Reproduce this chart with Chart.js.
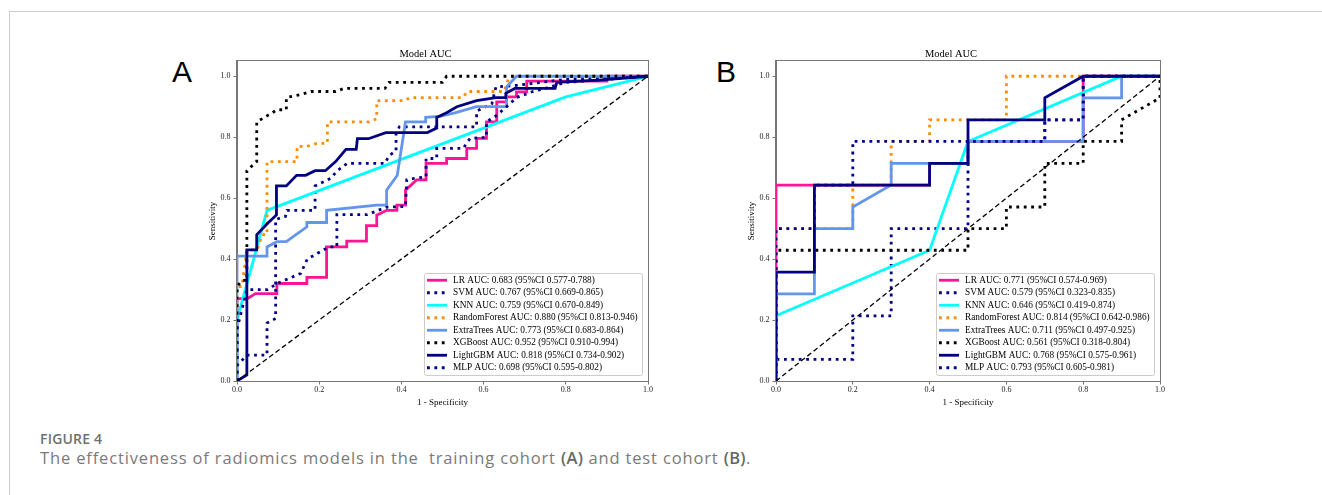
<!DOCTYPE html>
<html>
<head>
    <script src="https://cdn.jsdelivr.net/npm/chart.js@4.4.1/dist/chart.umd.min.js"></script>
    <style>
        body {
            margin: 0;
            width: 1322px;
            height: 495px;
            background: #fff;
            position: relative;
            overflow: hidden;
        }
        .rule-top {
            position: absolute; left: 9px; top: 11px; right: 0; height: 1px; background: #cccccc;
        }
        .rule-left {
            position: absolute; left: 9px; top: 11px; bottom: 0; width: 1px; background: #cccccc;
        }
        .panel-letter {
            position: absolute;
            font-family: "Liberation Sans", Arial, sans-serif;
            font-size: 30px;
            line-height: 30px;
            color: #000;
        }
        canvas { position: absolute; }
        #fig-label {
            position: absolute; left: 40px; top: 429px;
            font-family: "Open Sans", sans-serif; font-size: 14px; line-height: 20px;
            font-weight: 600; color: #707070; letter-spacing: 0.2px;
        }
        #fig-caption {
            position: absolute; left: 40px; top: 447px;
            font-family: "Open Sans", sans-serif; font-size: 16.5px; line-height: 22px;
            color: #7a7a7a; white-space: pre; letter-spacing: 0.85px;
        }
        #fig-caption b { color: #666; font-weight: 600; letter-spacing: 0.3px; }
    </style>
</head>
<body>
    <div class="rule-top"></div>
    <div class="rule-left"></div>
    <div class="panel-letter" style="left:172px; top:57px;">A</div>
    <div class="panel-letter" style="left:716px; top:57px;">B</div>
    <canvas id="rocTrain" width="465" height="375" style="left:195px; top:40px;"></canvas>
    <canvas id="rocTest" width="438" height="375" style="left:734px; top:40px;"></canvas>
    <div id="fig-label">FIGURE 4</div>
    <div id="fig-caption">The effectiveness of radiomics models in the  training cohort <b>(A)</b> and test cohort <b>(B)</b>.</div>
    <script>
        // model names and AUC values (legend text)
        const models = ['LR', 'SVM', 'KNN', 'RandomForest', 'ExtraTrees', 'XGBoost', 'LightGBM', 'MLP'];
        const trainAuc = [0.683, 0.767, 0.759, 0.880, 0.773, 0.952, 0.818, 0.698];
        const trainLow = [0.577, 0.669, 0.670, 0.813, 0.683, 0.910, 0.734, 0.595];
        const trainHigh = [0.788, 0.865, 0.849, 0.946, 0.864, 0.994, 0.902, 0.802];
        const testAuc = [0.771, 0.579, 0.646, 0.814, 0.711, 0.561, 0.768, 0.793];
        const testLow = [0.574, 0.323, 0.419, 0.642, 0.497, 0.318, 0.575, 0.605];
        const testHigh = [0.969, 0.835, 0.874, 0.986, 0.925, 0.804, 0.961, 0.981];
        const axisTicks = [0, 0.2, 0.4, 0.6, 0.8, 1.0];

        // ROC points [fpr, tpr], training cohort
        const lrTrain = [[0,0],[0,0.27],[0.025,0.27],[0.045,0.287],[0.097,0.287],[0.097,0.32],[0.17,0.32],[0.17,0.34],[0.218,0.34],[0.218,0.44],[0.267,0.44],[0.267,0.459],[0.315,0.459],[0.315,0.51],[0.34,0.51],[0.34,0.544],[0.364,0.56],[0.389,0.56],[0.389,0.577],[0.41,0.577],[0.41,0.626],[0.437,0.66],[0.46,0.66],[0.46,0.714],[0.51,0.714],[0.51,0.73],[0.559,0.73],[0.559,0.763],[0.583,0.763],[0.583,0.796],[0.607,0.796],[0.607,0.85],[0.632,0.85],[0.632,0.916],[0.656,0.916],[0.656,0.932],[0.68,0.932],[0.68,0.949],[0.705,0.949],[0.705,0.984],[0.9,0.984],[0.9,1],[1,1]];
        const svmTrain = [[0,0],[0,0.05],[0.024,0.085],[0.073,0.085],[0.073,0.19],[0.094,0.205],[0.094,0.53],[0.118,0.54],[0.122,0.56],[0.19,0.56],[0.19,0.64],[0.228,0.665],[0.244,0.69],[0.268,0.714],[0.36,0.714],[0.37,0.74],[0.387,0.755],[0.387,0.81],[0.395,0.834],[0.583,0.834],[0.583,0.885],[0.62,0.91],[0.63,0.965],[0.68,0.97],[0.8,0.99],[1,1]];
        const knnTrain = [[0,0],[0,0.2],[0.073,0.56],[0.8,0.932],[1,1]];
        const rfTrain = [[0,0],[0,0.31],[0.012,0.31],[0.024,0.43],[0.049,0.43],[0.061,0.48],[0.073,0.48],[0.073,0.72],[0.146,0.72],[0.146,0.77],[0.17,0.77],[0.195,0.78],[0.22,0.78],[0.22,0.85],[0.32,0.85],[0.34,0.86],[0.34,0.92],[0.41,0.92],[0.42,0.93],[0.55,0.93],[0.56,0.95],[0.65,0.95],[0.66,0.99],[0.67,1],[1,1]];
        const etTrain = [[0,0],[0,0.41],[0.073,0.41],[0.073,0.44],[0.097,0.457],[0.12,0.457],[0.17,0.506],[0.17,0.52],[0.218,0.52],[0.218,0.56],[0.34,0.577],[0.364,0.577],[0.364,0.626],[0.39,0.675],[0.41,0.85],[0.459,0.85],[0.459,0.865],[0.494,0.868],[0.53,0.88],[0.583,0.9],[0.656,0.9],[0.656,0.965],[0.68,1],[1,1]];
        const xgbTrain = [[0,0],[0,0.31],[0.012,0.33],[0.024,0.33],[0.024,0.69],[0.048,0.72],[0.048,0.85],[0.073,0.87],[0.098,0.89],[0.12,0.89],[0.12,0.93],[0.155,0.94],[0.18,0.95],[0.24,0.95],[0.26,0.96],[0.36,0.96],[0.37,0.98],[0.5,0.98],[0.51,1],[1,1]];
        const lgbmTrain = [[0,0],[0.024,0.02],[0.024,0.43],[0.048,0.43],[0.048,0.48],[0.074,0.517],[0.096,0.545],[0.096,0.64],[0.12,0.64],[0.145,0.675],[0.167,0.675],[0.19,0.69],[0.215,0.69],[0.24,0.72],[0.265,0.76],[0.29,0.76],[0.293,0.795],[0.32,0.795],[0.362,0.815],[0.463,0.815],[0.486,0.83],[0.486,0.865],[0.51,0.88],[0.535,0.9],[0.583,0.92],[0.63,0.93],[0.654,0.93],[0.654,0.944],[0.676,0.96],[0.774,0.96],[0.778,0.98],[0.88,0.987],[1,1]];
        const mlpTrain = [[0,0],[0,0.17],[0.024,0.3],[0.074,0.3],[0.098,0.32],[0.127,0.337],[0.155,0.353],[0.171,0.4],[0.196,0.419],[0.224,0.44],[0.243,0.44],[0.243,0.546],[0.317,0.546],[0.363,0.57],[0.41,0.573],[0.413,0.66],[0.435,0.666],[0.46,0.67],[0.46,0.73],[0.486,0.73],[0.486,0.763],[0.55,0.763],[0.567,0.796],[0.607,0.8],[0.607,0.85],[0.63,0.87],[0.656,0.9],[0.68,0.93],[0.72,0.95],[0.75,0.96],[0.8,0.98],[1,1]];

        // ROC points [fpr, tpr], test cohort
        const lrTest = [[0,0],[0,0.643],[0.1,0.643],[0.4,0.643],[0.4,0.714],[0.5,0.714],[0.5,0.786],[0.8,0.786],[0.8,1],[1,1]];
        const svmTest = [[0,0],[0,0.071],[0.2,0.071],[0.2,0.214],[0.3,0.214],[0.3,0.5],[0.5,0.5],[0.5,0.786],[0.7,0.786],[0.7,0.857],[0.8,0.857],[0.8,1],[1,1]];
        const knnTest = [[0,0],[0,0.214],[0.4,0.429],[0.5,0.786],[0.9,1],[1,1]];
        const rfTest = [[0,0],[0,0.5],[0.2,0.5],[0.2,0.643],[0.3,0.643],[0.3,0.786],[0.4,0.786],[0.4,0.857],[0.6,0.857],[0.6,1],[1,1]];
        const etTest = [[0,0],[0,0.286],[0.1,0.286],[0.1,0.5],[0.2,0.5],[0.2,0.571],[0.3,0.643],[0.3,0.714],[0.5,0.714],[0.5,0.786],[0.8,0.786],[0.8,0.929],[0.9,0.929],[0.9,1],[1,1]];
        const xgbTest = [[0,0],[0,0.429],[0.5,0.429],[0.5,0.5],[0.6,0.5],[0.6,0.571],[0.7,0.571],[0.7,0.714],[0.8,0.714],[0.8,0.786],[0.9,0.786],[0.9,0.857],[1,0.929],[1,1]];
        const lgbmTest = [[0,0],[0,0.357],[0.1,0.357],[0.1,0.643],[0.4,0.643],[0.4,0.714],[0.5,0.714],[0.5,0.857],[0.7,0.857],[0.7,0.929],[0.8,1],[1,1]];
        const mlpTest = [[0,0],[0,0.5],[0.1,0.5],[0.1,0.643],[0.2,0.643],[0.2,0.786],[0.7,0.786],[0.7,0.857],[0.8,0.857],[0.8,1],[1,1]];

        const chanceLine = [[0,0],[1,1]];

        // line looks, one per model
        const DOT = [2.8, 4.6];
        const lineStyles = [
            { color: '#FF1493', dash: [] },
            { color: '#00008B', dash: DOT },
            { color: '#00FFFF', dash: [] },
            { color: '#FF8C00', dash: DOT },
            { color: '#6495ED', dash: [] },
            { color: '#000000', dash: DOT },
            { color: '#000080', dash: [] },
            { color: '#00008B', dash: DOT }
        ];

        const SERIF = '"Liberation Serif", "Times New Roman", serif';

        // full box around the plot (matplotlib spines)
        const plotFrame = {
            id: 'plotFrame',
            afterDatasetsDraw(chart) {
                const { ctx, chartArea: a } = chart;
                ctx.save();
                ctx.strokeStyle = '#777';
                ctx.lineWidth = 1;
                ctx.strokeRect(Math.round(a.left) - 0.5, Math.round(a.top) - 0.5,
                    Math.round(a.right - a.left) + 1, Math.round(a.bottom - a.top) + 1);
                ctx.restore();
            }
        };

        // legend in the lower right corner, inside the axes
        const insideLegend = {
            id: 'insideLegend',
            afterDraw(chart) {
                const { ctx, chartArea } = chart;
                const items = chart.data.datasets.filter(d => d.label);
                const rowH = 12.5;
                ctx.save();
                ctx.font = '9.3px ' + SERIF;
                const textW = Math.max(...items.map(d => ctx.measureText(d.label).width));
                const w = Math.round(3 + 20 + 6 + textW + 4);
                const h = Math.round(items.length * rowH + 2);
                const x = Math.round(chartArea.right - 6 - w);
                const y = Math.round(chartArea.bottom - 6 - h);
                ctx.fillStyle = 'rgba(255,255,255,0.85)';
                ctx.strokeStyle = '#cccccc';
                ctx.lineWidth = 1;
                ctx.beginPath();
                ctx.roundRect(x + 0.5, y + 0.5, w, h, 2);
                ctx.fill();
                ctx.stroke();
                items.forEach((d, i) => {
                    const cy = y + 1 + rowH * (i + 0.5);
                    ctx.strokeStyle = d.borderColor;
                    ctx.lineWidth = d.borderWidth;
                    ctx.setLineDash(d.borderDash);
                    ctx.beginPath();
                    ctx.moveTo(x + 3, cy);
                    ctx.lineTo(x + 23, cy);
                    ctx.stroke();
                    ctx.setLineDash([]);
                    ctx.fillStyle = '#000';
                    ctx.textBaseline = 'middle';
                    ctx.fillText(d.label, x + 29, cy);
                });
                ctx.restore();
            }
        };

        function makeRoc(canvasId, curves, auc, low, high) {
            const datasets = curves.map((pts, i) => ({
                label: models[i] + ' AUC: ' + auc[i].toFixed(3) + ' (95%CI ' + low[i].toFixed(3) + '-' + high[i].toFixed(3) + ')',
                data: pts.map(p => ({ x: p[0], y: p[1] })),
                borderColor: lineStyles[i].color,
                borderDash: lineStyles[i].dash,
                borderWidth: 2.8,
                borderCapStyle: 'butt',
                showLine: true,
                pointRadius: 0,
                order: 20 - i // later models drawn on top, like matplotlib
            }));
            datasets.push({
                label: '',
                data: chanceLine.map(p => ({ x: p[0], y: p[1] })),
                borderColor: '#000',
                borderDash: [5, 3],
                borderWidth: 1.3,
                showLine: true,
                pointRadius: 0,
                order: 0
            });

            const tickFont = { family: SERIF, size: 8 };
            const titleFont = { family: SERIF, size: 9 };

            return new Chart(document.getElementById(canvasId), {
                type: 'scatter',
                data: { datasets: datasets },
                options: {
                    responsive: false,
                    animation: false,
                    devicePixelRatio: 1,
                    layout: { padding: { left: 8, right: 12, top: 0, bottom: 5 } },
                    plugins: {
                        legend: { display: false },
                        tooltip: { enabled: false },
                        title: {
                            display: true,
                            text: 'Model AUC',
                            color: '#000',
                            font: { family: SERIF, size: 10.5, weight: 'normal' },
                            padding: { top: 8.4, bottom: 0 }
                        }
                    },
                    scales: {
                        x: {
                            type: 'linear',
                            min: 0,
                            max: 1,
                            afterBuildTicks: s => { s.ticks = axisTicks.map(v => ({ value: v })); },
                            afterFit: s => { s.height = 29; },
                            ticks: { font: tickFont, color: '#222', padding: 1, maxRotation: 0, callback: v => v.toFixed(1) },
                            grid: { drawOnChartArea: false, drawTicks: true, tickLength: 3.5, color: '#777' },
                            border: { display: true, color: '#777' },
                            title: { display: true, text: '1 - Specificity', color: '#000', font: titleFont, padding: { top: 2, bottom: 2 } }
                        },
                        y: {
                            type: 'linear',
                            min: 0,
                            max: 1.05,
                            afterBuildTicks: s => { s.ticks = axisTicks.map(v => ({ value: v })); },
                            afterFit: s => { s.width = 34; },
                            ticks: { font: tickFont, color: '#222', padding: 3, callback: v => v.toFixed(1) },
                            grid: { drawOnChartArea: false, drawTicks: true, tickLength: 3.5, color: '#777' },
                            border: { display: true, color: '#777' },
                            title: { display: true, text: 'Sensitivity', color: '#000', font: titleFont, padding: { top: 4, bottom: 2 } }
                        }
                    }
                },
                plugins: [plotFrame, insideLegend]
            });
        }

        makeRoc('rocTrain', [lrTrain, svmTrain, knnTrain, rfTrain, etTrain, xgbTrain, lgbmTrain, mlpTrain], trainAuc, trainLow, trainHigh);
        makeRoc('rocTest', [lrTest, svmTest, knnTest, rfTest, etTest, xgbTest, lgbmTest, mlpTest], testAuc, testLow, testHigh);
    </script>
</body>
</html>
